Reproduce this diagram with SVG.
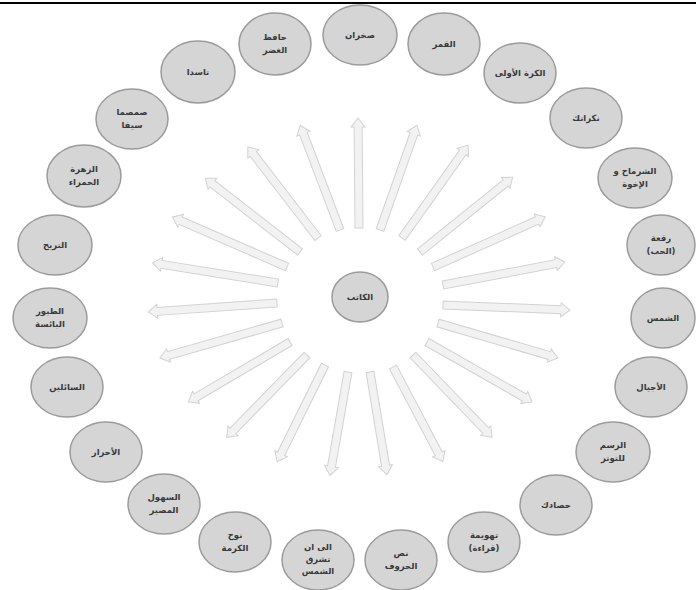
<svg xmlns="http://www.w3.org/2000/svg" width="696" height="590" viewBox="0 0 696 590">
<style>
.n{fill:#d5d5d5;stroke:#9b9b9b;stroke-width:1.5}
.t{font-family:"DejaVu Sans",sans-serif;font-size:8.5px;font-weight:bold;fill:#3a3a3a;text-anchor:middle;direction:rtl}
.a{fill:#f2f2f2;stroke:#d2d2d2;stroke-width:1}
</style>
<rect width="696" height="590" fill="#fff"/>
<line x1="0" y1="3" x2="696" y2="3" stroke="#000" stroke-width="2"/>
<g id="connectors">
<path class="a" transform="translate(359,228) rotate(-90.5)" d="M0,-4H101V-7L110,0L101,7V4H0Z"/>
<path class="a" transform="translate(380,230) rotate(-70.6)" d="M0,-4H102V-7L111,0L102,7V4H0Z"/>
<path class="a" transform="translate(402,238) rotate(-54.6)" d="M0,-4H105V-7L114,0L105,7V4H0Z"/>
<path class="a" transform="translate(420,252) rotate(-38.9)" d="M0,-4H110V-7L119,0L110,7V4H0Z"/>
<path class="a" transform="translate(433,267) rotate(-24.1)" d="M0,-4H114V-7L123,0L114,7V4H0Z"/>
<path class="a" transform="translate(443,285) rotate(-10.7)" d="M0,-4H115V-7L124,0L115,7V4H0Z"/>
<path class="a" transform="translate(443,305) rotate(2.3)" d="M0,-4H118V-7L127,0L118,7V4H0Z"/>
<path class="a" transform="translate(438,323) rotate(16.3)" d="M0,-4H116V-7L125,0L116,7V4H0Z"/>
<path class="a" transform="translate(427,342) rotate(29.7)" d="M0,-4H112V-7L121,0L112,7V4H0Z"/>
<path class="a" transform="translate(413,355) rotate(46.1)" d="M0,-4H105V-7L114,0L105,7V4H0Z"/>
<path class="a" transform="translate(393,367) rotate(62.2)" d="M0,-4H98V-7L107,0L98,7V4H0Z"/>
<path class="a" transform="translate(370,372) rotate(80.6)" d="M0,-4H95V-7L104,0L95,7V4H0Z"/>
<path class="a" transform="translate(348,372) rotate(99.9)" d="M0,-4H96V-7L105,0L96,7V4H0Z"/>
<path class="a" transform="translate(325,365) rotate(116.3)" d="M0,-4H99V-7L108,0L99,7V4H0Z"/>
<path class="a" transform="translate(307,355) rotate(134.3)" d="M0,-4H106V-7L115,0L106,7V4H0Z"/>
<path class="a" transform="translate(290,342) rotate(149.5)" d="M0,-4H109V-7L118,0L109,7V4H0Z"/>
<path class="a" transform="translate(282,323) rotate(164)" d="M0,-4H118V-7L127,0L118,7V4H0Z"/>
<path class="a" transform="translate(277,303) rotate(176)" d="M0,-4H120V-7L129,0L120,7V4H0Z"/>
<path class="a" transform="translate(278,283) rotate(-170.9)" d="M0,-4H118V-7L127,0L118,7V4H0Z"/>
<path class="a" transform="translate(287,267) rotate(-156.5)" d="M0,-4H116V-7L125,0L116,7V4H0Z"/>
<path class="a" transform="translate(300,252) rotate(-142.1)" d="M0,-4H111V-7L120,0L111,7V4H0Z"/>
<path class="a" transform="translate(318,238) rotate(-127.6)" d="M0,-4H106V-7L115,0L106,7V4H0Z"/>
<path class="a" transform="translate(340,230) rotate(-110.8)" d="M0,-4H103V-7L112,0L103,7V4H0Z"/>
</g>
<g id="center"><ellipse class="n" cx="360" cy="297" rx="28" ry="25"/><text class="t" x="360" y="300">الكاتب</text></g>
<g id="n1"><ellipse class="n" cx="360" cy="35" rx="37" ry="30"/><text class="t" x="360" y="38">صخران</text></g>
<g id="n2"><ellipse class="n" cx="444" cy="44" rx="36" ry="31"/><text class="t" x="444" y="47">القمر</text></g>
<g id="n3"><ellipse class="n" cx="520" cy="73" rx="36" ry="30"/><text class="t" x="520" y="76">الكرة الأولى</text></g>
<g id="n4"><ellipse class="n" cx="586" cy="118" rx="36" ry="30"/><text class="t" x="586" y="121">نكرانك</text></g>
<g id="n5"><ellipse class="n" cx="635" cy="178" rx="37" ry="30"/><text class="t" x="635" y="174">الشرماح و</text><text class="t" x="635" y="187">الإخوة</text></g>
<g id="n6"><ellipse class="n" cx="661" cy="245" rx="34" ry="30"/><text class="t" x="661" y="241">رقعة</text><text class="t" x="661" y="254">(الحب)</text></g>
<g id="n7"><ellipse class="n" cx="663" cy="318" rx="32" ry="30"/><text class="t" x="663" y="321">الشمس</text></g>
<g id="n8"><ellipse class="n" cx="651" cy="387" rx="36" ry="30"/><text class="t" x="651" y="390">الأجيال</text></g>
<g id="n9"><ellipse class="n" cx="613" cy="452" rx="37" ry="30"/><text class="t" x="613" y="448">الرسم</text><text class="t" x="613" y="461">للتوتر</text></g>
<g id="n10"><ellipse class="n" cx="556" cy="505" rx="36" ry="30"/><text class="t" x="556" y="508">حصادك</text></g>
<g id="n11"><ellipse class="n" cx="484" cy="542" rx="36" ry="30"/><text class="t" x="484" y="538">تهويمة</text><text class="t" x="484" y="551">(قراءة)</text></g>
<g id="n12"><ellipse class="n" cx="401" cy="560" rx="36" ry="30"/><text class="t" x="401" y="556">نص</text><text class="t" x="401" y="569">الحروف</text></g>
<g id="n13"><ellipse class="n" cx="318" cy="560" rx="36" ry="30"/><text class="t" x="318" y="550">الى ان</text><text class="t" x="318" y="562">تشرق</text><text class="t" x="318" y="574">الشمس</text></g>
<g id="n14"><ellipse class="n" cx="235" cy="542" rx="36" ry="30"/><text class="t" x="235" y="538">نوح</text><text class="t" x="235" y="551">الكرمة</text></g>
<g id="n15"><ellipse class="n" cx="164" cy="504" rx="36" ry="30"/><text class="t" x="164" y="500">السهول</text><text class="t" x="164" y="513">المصير</text></g>
<g id="n16"><ellipse class="n" cx="106" cy="452" rx="36" ry="30"/><text class="t" x="106" y="455">الأحرار</text></g>
<g id="n17"><ellipse class="n" cx="67" cy="387" rx="36" ry="30"/><text class="t" x="67" y="390">السائلين</text></g>
<g id="n18"><ellipse class="n" cx="50" cy="318" rx="37" ry="30"/><text class="t" x="50" y="314">الطيور</text><text class="t" x="50" y="327">البائسة</text></g>
<g id="n19"><ellipse class="n" cx="55" cy="245" rx="37" ry="30"/><text class="t" x="55" y="248">التريح</text></g>
<g id="n20"><ellipse class="n" cx="84" cy="176" rx="37" ry="31"/><text class="t" x="84" y="172">الزهرة</text><text class="t" x="84" y="185">الحمراء</text></g>
<g id="n21"><ellipse class="n" cx="132" cy="119" rx="36" ry="30"/><text class="t" x="132" y="115">صمصما</text><text class="t" x="132" y="128">سيفا</text></g>
<g id="n22"><ellipse class="n" cx="198" cy="72" rx="37" ry="31"/><text class="t" x="198" y="75">تاسدا</text></g>
<g id="n23"><ellipse class="n" cx="275" cy="44" rx="36" ry="31"/><text class="t" x="275" y="40">حافظ</text><text class="t" x="275" y="53">الغضر</text></g>
</svg>
